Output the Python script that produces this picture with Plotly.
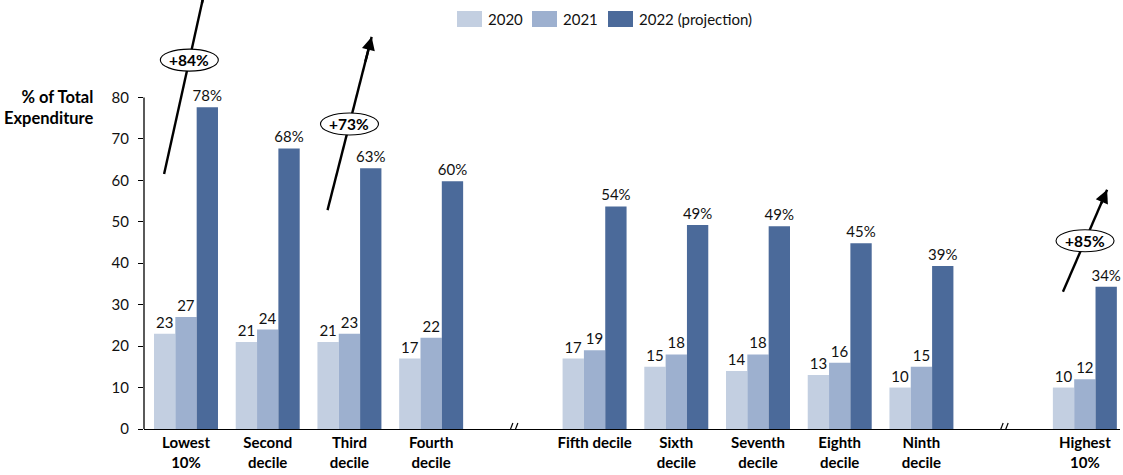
import plotly.graph_objects as go

# ---- data -------------------------------------------------------------
categories = [
    "Lowest<br>10%", "Second<br>decile", "Third<br>decile", "Fourth<br>decile",
    "Fifth decile", "Sixth<br>decile", "Seventh<br>decile", "Eighth<br>decile",
    "Ninth<br>decile", "Highest<br>10%",
]
series_names = ["2020", "2021", "2022 (projection)"]
values_2020 = [23, 21, 21, 17, 17, 15, 14, 13, 10, 10]
values_2021 = [27, 24, 23, 22, 19, 18, 18, 16, 15, 12]
values_2022 = [77.6, 67.7, 62.9, 59.8, 53.7, 49.2, 48.9, 44.8, 39.3, 34.3]
y_ticks = [0, 10, 20, 30, 40, 50, 60, 70, 80]

# growth callouts: category index, label
growth_cat = [0, 2, 9]
growth_text = ["+84%", "+73%", "+85%"]

# ---- layout constants ---------------------------------------------------
W, H = 1123, 475
ML, MR, MT, MB = 144, 3, 0, 46
PW, PH = W - ML - MR, H - MT - MB
FONT = "Lato"
colors = ["#C3CFE1", "#9DB0CF", "#4B6A9A"]
breaks_after = [3, 8]          # axis break follows these category indices

# slot positions along x: one empty slot at each axis break
slots = []
for i in range(len(categories)):
    slots.append(i + sum(1 for b in breaks_after if i > b))
break_slots = [b + 1 + sum(1 for bb in breaks_after if bb < b) for b in breaks_after]

fig = go.Figure()
all_values = [values_2020, values_2021, values_2022]
templates = ["%{y:.0f}", "%{y:.0f}", "%{y:.0f}%"]
for name, vals, col, tpl in zip(series_names, all_values, colors, templates):
    fig.add_trace(go.Bar(
        x=slots, y=vals, name=name, marker=dict(color=col, line=dict(width=0)),
        texttemplate=tpl, textposition="outside", cliponaxis=False,
        constraintext="none",
        textfont=dict(family=FONT, size=15, color="#111"),
        showlegend=False,
    ))

shapes = []
annotations = []

# y axis line runs only from 0 to the top tick
shapes.append(dict(type="line", xref="paper", yref="y", x0=0, x1=0,
                   y0=0, y1=y_ticks[-1], line=dict(color="#000", width=1.3)))

# axis break marks "//"
for s in break_slots:
    for dx in (-4, 1):
        shapes.append(dict(type="line", xref="x", yref="y",
                           xsizemode="pixel", ysizemode="pixel",
                           xanchor=s, yanchor=0,
                           x0=dx - 1, x1=dx + 4, y0=-7, y1=6,
                           line=dict(color="#000", width=1.2)))

# growth arrows with oval labels
arrow_geom = {  # per callout: (y tail, y tip, y of oval)
    0: (61.5, 109.6, 89.0),
    2: (52.8, 94.6, 73.6),
    9: (33.1, 57.7, 45.4),
}
for ci, txt in zip(growth_cat, growth_text):
    s = slots[ci]
    y_tail, y_tip, y_lab = arrow_geom[ci]
    x_tail, x_tip = s - 0.268, s + 0.272
    shapes.append(dict(type="line", xref="x", yref="y", x0=x_tail, y0=y_tail,
                       x1=x_tip, y1=y_tip, line=dict(color="#000", width=2.4)))
    f = 0.85
    annotations.append(dict(
        x=x_tip, y=y_tip, xref="x", yref="y", axref="x", ayref="y",
        ax=x_tail + f * (x_tip - x_tail), ay=y_tail + f * (y_tip - y_tail),
        text="", showarrow=True, arrowhead=2, arrowsize=1.1, arrowwidth=2.4,
        arrowcolor="#000", standoff=0, startstandoff=0,
    ))
    x_lab = x_tail + (y_lab - y_tail) / (y_tip - y_tail) * (x_tip - x_tail)
    shapes.append(dict(type="circle", xref="x", yref="y",
                       xsizemode="pixel", ysizemode="pixel",
                       xanchor=x_lab, yanchor=y_lab, x0=-29, x1=29, y0=-11, y1=11,
                       fillcolor="#fff", line=dict(color="#000", width=1.1)))
    annotations.append(dict(x=x_lab, y=y_lab, xref="x", yref="y", text=txt,
                            showarrow=False,
                            font=dict(family=FONT, size=15.5, color="#000",
                                      weight="bold")))

# y axis title
annotations.append(dict(
    xref="paper", yref="paper", x=(96 - ML) / PW, y=(H - MB - 107) / PH,
    xanchor="right", yanchor="middle", align="right", showarrow=False,
    text="% of Total<br>Expenditure",
    font=dict(family=FONT, size=16.5, color="#000", weight="bold"),
))

# legend drawn as swatches plus labels across the top
legend_px = [457, 532, 608]
legend_y_px = 19
for name, col, lx in zip(series_names, colors, legend_px):
    shapes.append(dict(type="rect", xref="paper", yref="paper",
                       xsizemode="pixel", ysizemode="pixel",
                       xanchor=(lx - ML) / PW, yanchor=(H - MB - legend_y_px) / PH,
                       x0=0, x1=25, y0=-8, y1=8,
                       fillcolor=col, line=dict(width=0)))
    annotations.append(dict(xref="paper", yref="paper",
                            x=(lx + 29 - ML) / PW, y=(H - MB - legend_y_px) / PH,
                            xanchor="left", yanchor="middle", showarrow=False,
                            text=name,
                            font=dict(family=FONT, size=15, color="#111")))

fig.update_layout(
    width=W, height=H, margin=dict(l=ML, r=MR, t=MT, b=MB),
    paper_bgcolor="#fff", plot_bgcolor="#fff",
    barmode="group", bargap=0.217, bargroupgap=0,
    showlegend=False, shapes=shapes, annotations=annotations,
    font=dict(family=FONT, color="#111"),
)
fig.update_xaxes(
    range=[-0.514, 11.43], tickvals=slots, ticktext=categories,
    showline=True, linecolor="#000", linewidth=1.3, showgrid=False,
    zeroline=False, ticks="",
    tickfont=dict(family=FONT, size=15, color="#000", weight="bold"),
)
fig.update_yaxes(
    range=[0, 103.5], tickvals=y_ticks, showgrid=False, zeroline=False,
    showline=False, ticks="outside", ticklen=5, tickwidth=1.3, tickcolor="#000",
    ticklabelstandoff=6,
    tickfont=dict(family=FONT, size=15, color="#111"),
)

fig.write_html("out.html")
